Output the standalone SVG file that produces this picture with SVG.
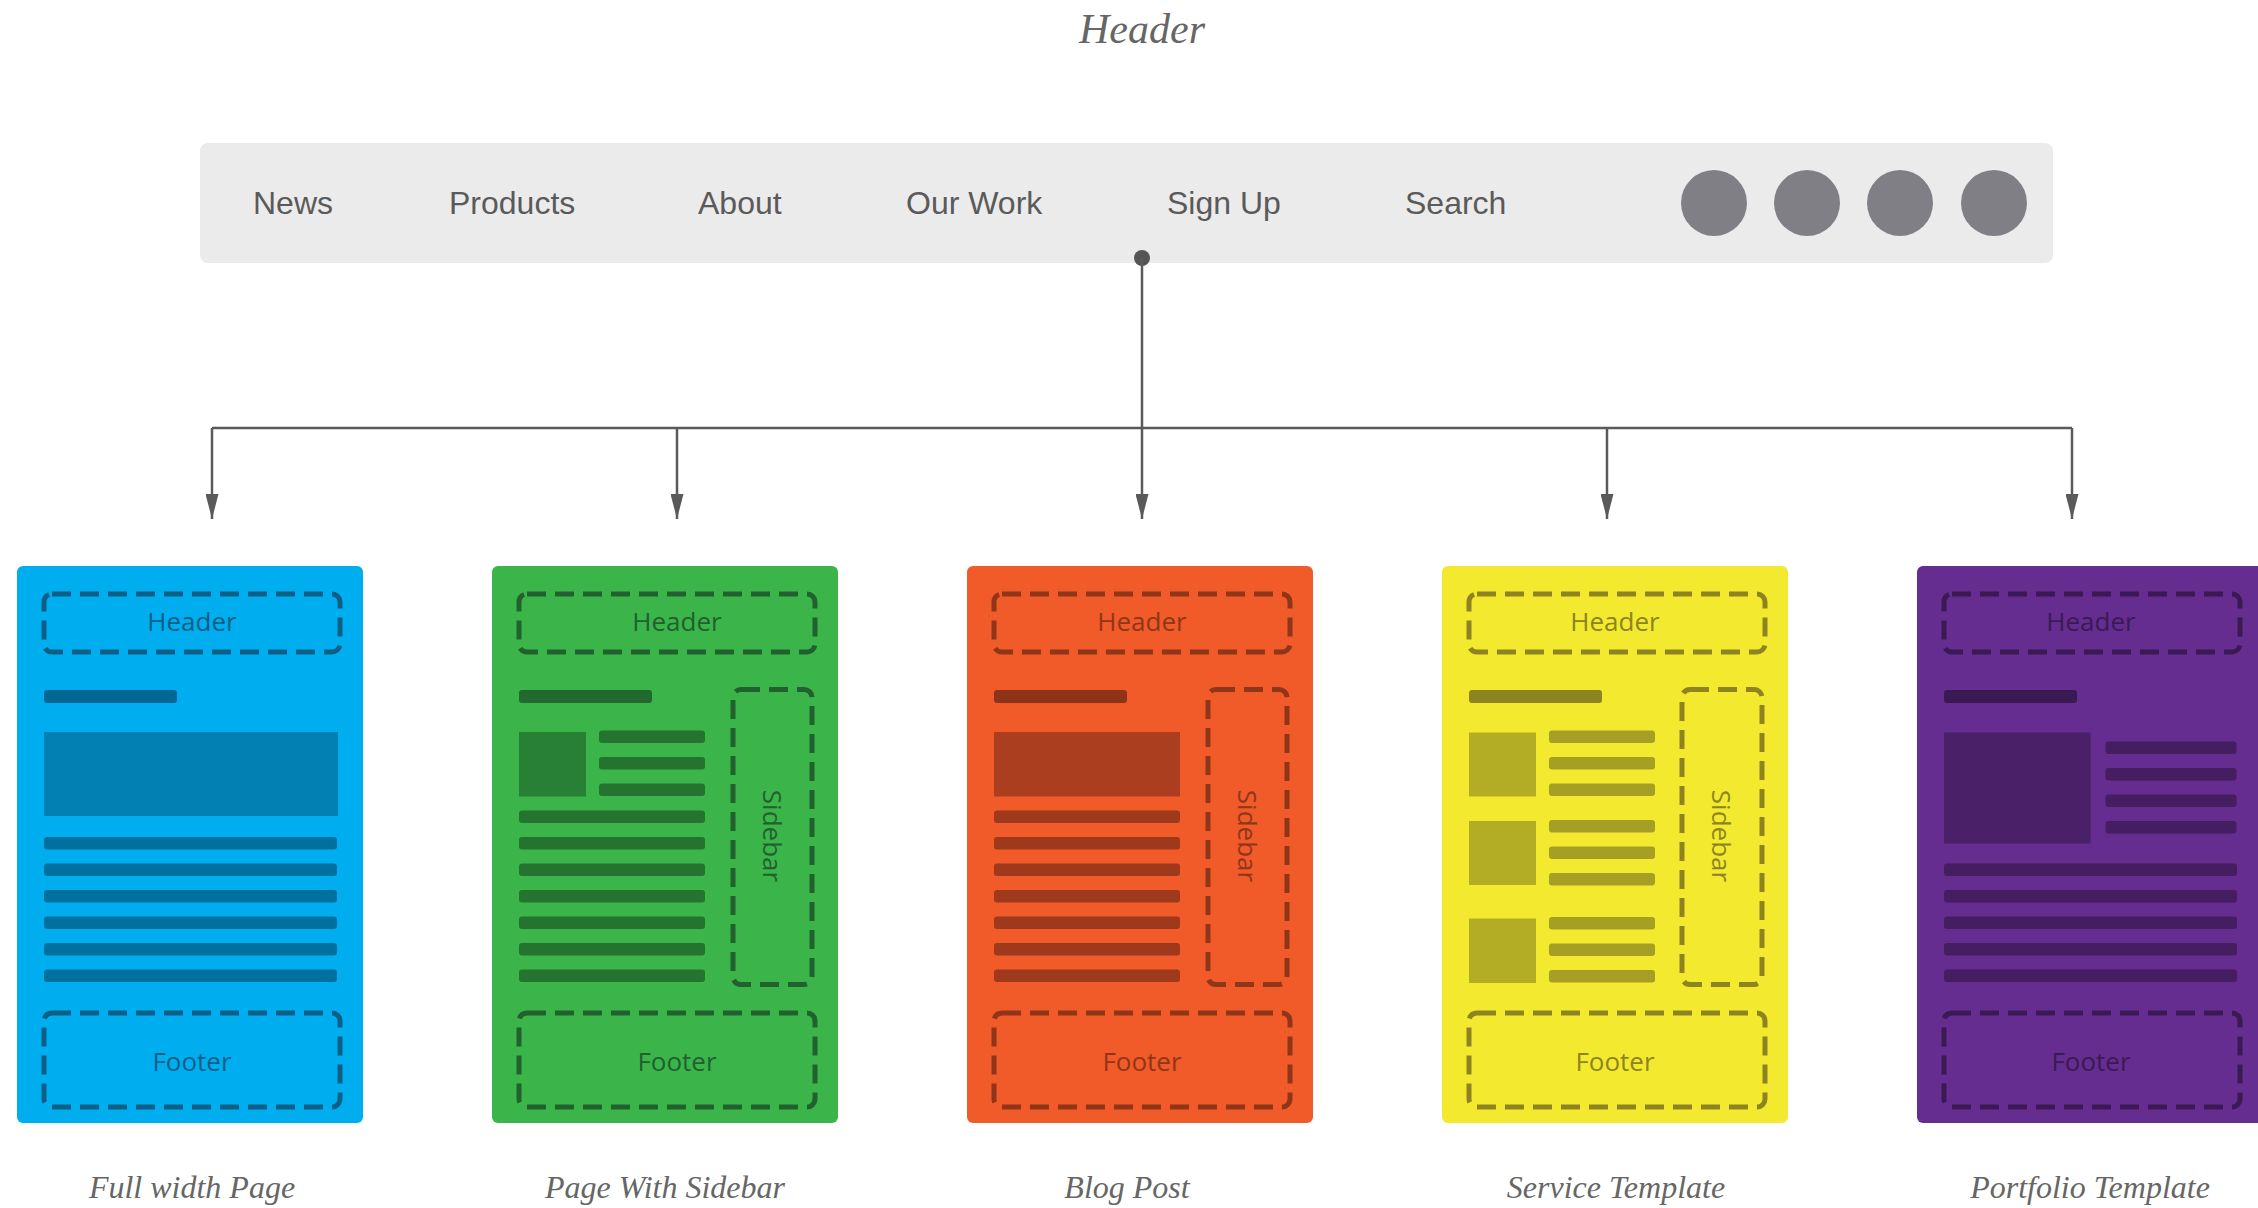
<svg xmlns="http://www.w3.org/2000/svg" width="2258" height="1208" viewBox="0 0 2258 1208">
<style>
.title{font-family:"Liberation Serif",serif;font-style:italic;fill:#666;}
.nav{font-family:"Liberation Sans",Arial,sans-serif;font-size:32px;fill:#5a5a5a;}
.lbl{font-family:"Liberation Serif",serif;font-style:italic;font-size:32px;fill:#666;text-anchor:middle;}
.in{font-family:"Open Sans","DejaVu Sans",sans-serif;font-size:26px;text-anchor:middle;}
.box{fill:none;stroke-width:5;stroke-dasharray:19 9;}
.conn{fill:none;stroke:#5a5a5a;stroke-width:2.5;}
.blue .card{fill:#00aeef}.blue .box{stroke:#0d5f86}.blue .in{fill:#0d5f86}.blue .tb{fill:#006893}.blue .img{fill:#027fb3}.blue .ln{fill:#00709f}
.green .card{fill:#3bb54a}.green .box{stroke:#226030}.green .in{fill:#226030}.green .tb{fill:#22692f}.green .img{fill:#278035}.green .ln{fill:#24732f}
.orange .card{fill:#f15a29}.orange .box{stroke:#8f361a}.orange .in{fill:#8f361a}.orange .tb{fill:#8d3418}.orange .img{fill:#ab3e1f}.orange .ln{fill:#9e391c}
.yellow .card{fill:#f3ea2f}.yellow .box{stroke:#8d8421}.yellow .in{fill:#8d8421}.yellow .tb{fill:#8c8421}.yellow .img{fill:#b3ad25}.yellow .ln{fill:#a59f26}
.purple .card{fill:#652d8f}.purple .box{stroke:#3b1a54}.purple .in{fill:#3b1a54}.purple .tb{fill:#3a1a53}.purple .img{fill:#4a2169}.purple .ln{fill:#441e61}
</style>
<defs>
<marker id="arr" viewBox="0 0 25 13" refX="25" refY="6.5" markerWidth="25" markerHeight="13" markerUnits="userSpaceOnUse" orient="auto">
<path d="M0,0 L25,6.5 L0,13 Z" fill="#5a5a5a"/>
</marker>
</defs>
<rect width="2258" height="1208" fill="#ffffff"/>
<text class="title" x="1142" y="43" font-size="42" text-anchor="middle">Header</text>

<g id="navbar">
<rect x="200" y="143" width="1853" height="120" rx="8" fill="#ebebeb"/>
<text class="nav" x="253" y="214">News</text>
<text class="nav" x="449" y="214">Products</text>
<text class="nav" x="698" y="214">About</text>
<text class="nav" x="906" y="214">Our Work</text>
<text class="nav" x="1167" y="214">Sign Up</text>
<text class="nav" x="1405" y="214">Search</text>
<circle cx="1714" cy="203" r="33" fill="#807f85"/>
<circle cx="1807" cy="203" r="33" fill="#807f85"/>
<circle cx="1900" cy="203" r="33" fill="#807f85"/>
<circle cx="1994" cy="203" r="33" fill="#807f85"/>
</g>

<g id="connectors">
<circle cx="1142" cy="258" r="8" fill="#555"/>
<path class="conn" d="M1142,258 V428"/>
<path class="conn" d="M212,428 H2072"/>
<path class="conn" d="M212,428 V519" marker-end="url(#arr)"/>
<path class="conn" d="M677,428 V519" marker-end="url(#arr)"/>
<path class="conn" d="M1142,428 V519" marker-end="url(#arr)"/>
<path class="conn" d="M1607,428 V519" marker-end="url(#arr)"/>
<path class="conn" d="M2072,428 V519" marker-end="url(#arr)"/>
</g>

<g id="full-width-page" class="blue" transform="translate(17,0)">
<rect class="card" x="0" y="566" width="346" height="557" rx="6"/>
<rect class="box" x="27" y="594" width="296" height="58" rx="8"/>
<text class="in" x="175" y="631">Header</text>
<rect class="tb" x="27" y="690" width="133" height="13" rx="3"/>
<rect class="img" x="27" y="732" width="294" height="84"/>
<rect class="ln" x="27" y="837" width="293" height="12.5" rx="3"/>
<rect class="ln" x="27" y="863.5" width="293" height="12.5" rx="3"/>
<rect class="ln" x="27" y="890" width="293" height="12.5" rx="3"/>
<rect class="ln" x="27" y="916.5" width="293" height="12.5" rx="3"/>
<rect class="ln" x="27" y="943" width="293" height="12.5" rx="3"/>
<rect class="ln" x="27" y="969.5" width="293" height="12.5" rx="3"/>
<rect class="box" x="27" y="1013" width="296" height="94" rx="8"/>
<text class="in" x="175" y="1071">Footer</text>
</g>
<text class="lbl" x="192" y="1198">Full width Page</text>

<g id="page-with-sidebar" class="green" transform="translate(492,0)">
<rect class="card" x="0" y="566" width="346" height="557" rx="6"/>
<rect class="box" x="27" y="594" width="296" height="58" rx="8"/>
<text class="in" x="185" y="631">Header</text>
<rect class="tb" x="27" y="690" width="133" height="13" rx="3"/>
<rect class="img" x="27" y="732" width="67" height="64.5"/>
<rect class="ln" x="107" y="730.5" width="106" height="12.5" rx="3"/>
<rect class="ln" x="107" y="757" width="106" height="12.5" rx="3"/>
<rect class="ln" x="107" y="783.5" width="106" height="12.5" rx="3"/>
<rect class="ln" x="27" y="810.5" width="186" height="12.5" rx="3"/>
<rect class="ln" x="27" y="837" width="186" height="12.5" rx="3"/>
<rect class="ln" x="27" y="863.5" width="186" height="12.5" rx="3"/>
<rect class="ln" x="27" y="890" width="186" height="12.5" rx="3"/>
<rect class="ln" x="27" y="916.5" width="186" height="12.5" rx="3"/>
<rect class="ln" x="27" y="943" width="186" height="12.5" rx="3"/>
<rect class="ln" x="27" y="969.5" width="186" height="12.5" rx="3"/>
<rect class="box" x="241" y="689.5" width="79" height="295" rx="8"/>
<text class="in" x="0" y="0" transform="translate(271,836) rotate(90)">Sidebar</text>
<rect class="box" x="27" y="1013" width="296" height="94" rx="8"/>
<text class="in" x="185" y="1071">Footer</text>
</g>
<text class="lbl" x="665" y="1198">Page With Sidebar</text>

<g id="blog-post" class="orange" transform="translate(967,0)">
<rect class="card" x="0" y="566" width="346" height="557" rx="6"/>
<rect class="box" x="27" y="594" width="296" height="58" rx="8"/>
<text class="in" x="175" y="631">Header</text>
<rect class="tb" x="27" y="690" width="133" height="13" rx="3"/>
<rect class="img" x="27" y="732" width="186" height="64.5"/>
<rect class="ln" x="27" y="810.5" width="186" height="12.5" rx="3"/>
<rect class="ln" x="27" y="837" width="186" height="12.5" rx="3"/>
<rect class="ln" x="27" y="863.5" width="186" height="12.5" rx="3"/>
<rect class="ln" x="27" y="890" width="186" height="12.5" rx="3"/>
<rect class="ln" x="27" y="916.5" width="186" height="12.5" rx="3"/>
<rect class="ln" x="27" y="943" width="186" height="12.5" rx="3"/>
<rect class="ln" x="27" y="969.5" width="186" height="12.5" rx="3"/>
<rect class="box" x="241" y="689.5" width="79" height="295" rx="8"/>
<text class="in" x="0" y="0" transform="translate(271,836) rotate(90)">Sidebar</text>
<rect class="box" x="27" y="1013" width="296" height="94" rx="8"/>
<text class="in" x="175" y="1071">Footer</text>
</g>
<text class="lbl" x="1127" y="1198">Blog Post</text>

<g id="service-template" class="yellow" transform="translate(1442,0)">
<rect class="card" x="0" y="566" width="346" height="557" rx="6"/>
<rect class="box" x="27" y="594" width="296" height="58" rx="8"/>
<text class="in" x="173" y="631">Header</text>
<rect class="tb" x="27" y="690" width="133" height="13" rx="3"/>
<rect class="img" x="27" y="732.5" width="67" height="64"/>
<rect class="img" x="27" y="821" width="67" height="64"/>
<rect class="img" x="27" y="918.5" width="67" height="64.5"/>
<rect class="ln" x="107" y="730.5" width="106" height="12.5" rx="3"/>
<rect class="ln" x="107" y="757" width="106" height="12.5" rx="3"/>
<rect class="ln" x="107" y="783.5" width="106" height="12.5" rx="3"/>
<rect class="ln" x="107" y="820" width="106" height="12.5" rx="3"/>
<rect class="ln" x="107" y="846.5" width="106" height="12.5" rx="3"/>
<rect class="ln" x="107" y="873" width="106" height="12.5" rx="3"/>
<rect class="ln" x="107" y="917" width="106" height="12.5" rx="3"/>
<rect class="ln" x="107" y="943.5" width="106" height="12.5" rx="3"/>
<rect class="ln" x="107" y="970" width="106" height="12.5" rx="3"/>
<rect class="box" x="240" y="689.5" width="80" height="295" rx="8"/>
<text class="in" x="0" y="0" transform="translate(270,836) rotate(90)">Sidebar</text>
<rect class="box" x="27" y="1013" width="296" height="94" rx="8"/>
<text class="in" x="173" y="1071">Footer</text>
</g>
<text class="lbl" x="1616" y="1198">Service Template</text>

<g id="portfolio-template" class="purple" transform="translate(1917,0)">
<rect class="card" x="0" y="566" width="346" height="557" rx="6"/>
<rect class="box" x="27" y="594" width="296" height="58" rx="8"/>
<text class="in" x="174" y="631">Header</text>
<rect class="tb" x="27" y="690" width="133" height="13" rx="3"/>
<rect class="img" x="27" y="732.5" width="146.5" height="111"/>
<rect class="ln" x="188.5" y="741.5" width="131" height="12.5" rx="3"/>
<rect class="ln" x="188.5" y="768" width="131" height="12.5" rx="3"/>
<rect class="ln" x="188.5" y="794.5" width="131" height="12.5" rx="3"/>
<rect class="ln" x="188.5" y="821" width="131" height="12.5" rx="3"/>
<rect class="ln" x="27" y="863.5" width="293" height="12.5" rx="3"/>
<rect class="ln" x="27" y="890" width="293" height="12.5" rx="3"/>
<rect class="ln" x="27" y="916.5" width="293" height="12.5" rx="3"/>
<rect class="ln" x="27" y="943" width="293" height="12.5" rx="3"/>
<rect class="ln" x="27" y="969.5" width="293" height="12.5" rx="3"/>
<rect class="box" x="27" y="1013" width="296" height="94" rx="8"/>
<text class="in" x="174" y="1071">Footer</text>
</g>
<text class="lbl" x="2090" y="1198">Portfolio Template</text>
</svg>
